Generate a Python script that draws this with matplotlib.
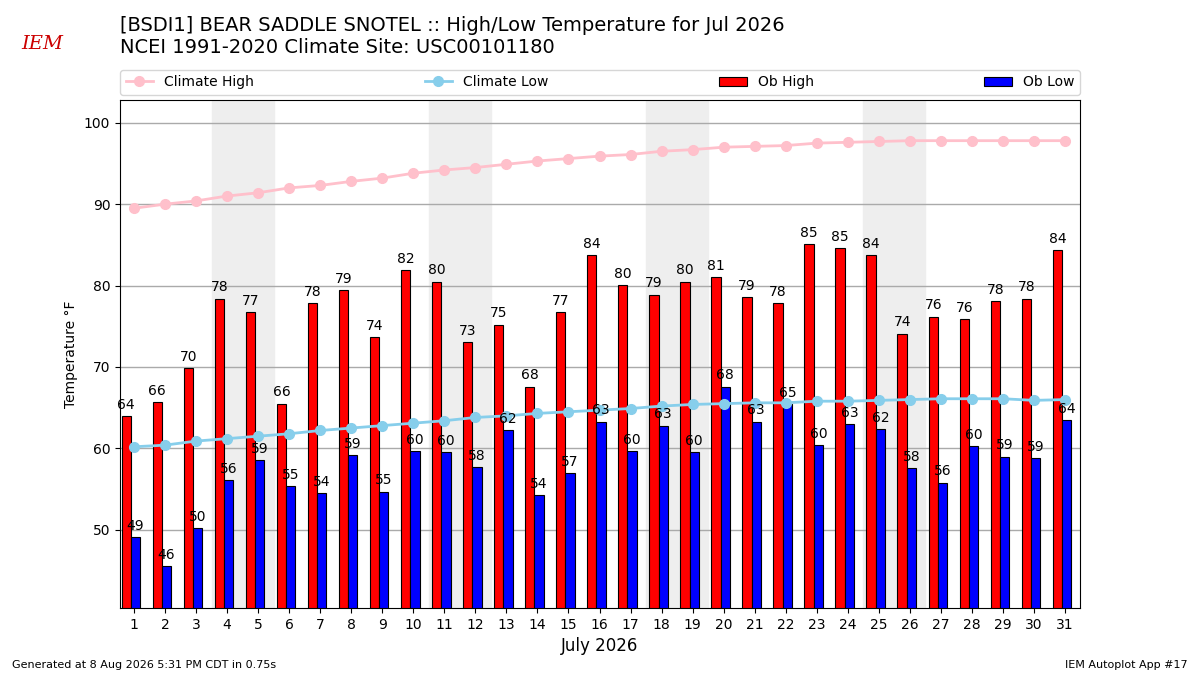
import matplotlib
matplotlib.use("Agg")
import matplotlib.pyplot as plt
import numpy as np

days = list(range(1, 32))
ob_high = [64.0, 65.7, 69.9, 78.4, 76.7, 65.5, 77.9, 79.4, 73.7, 81.9, 80.5, 73.1, 75.2, 67.6, 76.7, 83.7,
           80.1, 78.9, 80.5, 81.0, 78.6, 77.8, 85.1, 84.6, 83.7, 74.1, 76.2, 75.9, 78.1, 78.4, 84.4]
ob_low = [49.1, 45.5, 50.2, 56.1, 58.6, 55.4, 54.5, 59.2, 54.7, 59.7, 59.5, 57.7, 62.2, 54.3, 57.0, 63.3,
          59.7, 62.8, 59.5, 67.6, 63.3, 65.4, 60.4, 63.0, 62.4, 57.6, 55.8, 60.3, 59.0, 58.8, 63.5]
clim_high = [89.5, 90.0, 90.4, 91.0, 91.4, 92.0, 92.3, 92.8, 93.2, 93.8, 94.2, 94.5, 94.9, 95.3, 95.6, 95.9,
             96.1, 96.5, 96.7, 97.0, 97.1, 97.2, 97.5, 97.6, 97.7, 97.8, 97.8, 97.8, 97.8, 97.8, 97.8]
clim_low = [60.2, 60.4, 60.9, 61.2, 61.5, 61.8, 62.2, 62.5, 62.8, 63.1, 63.4, 63.8, 64.0, 64.3, 64.5, 64.7,
            64.9, 65.2, 65.4, 65.5, 65.6, 65.6, 65.8, 65.8, 65.9, 66.0, 66.1, 66.1, 66.1, 65.9, 66.0]
weekend_starts = [4, 11, 18, 25]

title = "[BSDI1] BEAR SADDLE SNOTEL :: High/Low Temperature for Jul 2026\nNCEI 1991-2020 Climate Site: USC00101180"

fig = plt.figure(figsize=(12, 6.75), dpi=100)
ax = fig.add_axes([0.1, 0.0993, 0.8, 0.7526])

x = np.array(days)
for ws in weekend_starts:
    ax.axvspan(ws - 0.5, ws + 1.5, color="#EEEEEE", zorder=0)

ax.plot(x, clim_high, color="pink", marker="o", ms=7, lw=2, label="Climate High", zorder=3)
ax.plot(x, clim_low, color="skyblue", marker="o", ms=7, lw=2, label="Climate Low", zorder=3)
ax.bar(x - 0.25, ob_high, width=0.3, color="r", edgecolor="k", lw=0.8, label="Ob High", zorder=2)
ax.bar(x + 0.05, ob_low, width=0.3, color="b", edgecolor="k", lw=0.8, label="Ob Low", zorder=2)

for xi, v in zip(x - 0.25, ob_high):
    ax.annotate(f"{v:.0f}", (xi, v), xytext=(0, 3), textcoords="offset points",
                ha="center", va="bottom", fontsize=10, zorder=4)
for xi, v in zip(x + 0.05, ob_low):
    ax.annotate(f"{v:.0f}", (xi, v), xytext=(0, 3), textcoords="offset points",
                ha="center", va="bottom", fontsize=10, zorder=4)

ax.set_xlim(0.55, 31.48)
ax.set_ylim(40.4, 102.8)
ax.set_xticks(days)
ax.set_yticks(range(50, 101, 10))
ax.yaxis.grid(True, color="#aaaaaa", lw=1)
ax.set_axisbelow(True)
ax.set_xlabel("July 2026", fontsize=12)
ax.set_ylabel("Temperature °F", fontsize=10)
ax.tick_params(labelsize=10)

ax.legend(loc="lower left", bbox_to_anchor=(0, 1.01, 1, 0.05), ncol=4, mode="expand",
          borderaxespad=0, fontsize=10)

fig.text(0.1, 0.977, title, fontsize=14, ha="left", va="top", linespacing=1.2)
fig.text(0.018, 0.935, "IEM", fontsize=14, color="#cc0000", family="DejaVu Serif", style="italic",
         ha="left", va="center")
fig.text(0.01, 0.015, "Generated at 8 Aug 2026 5:31 PM CDT in 0.75s", fontsize=8, ha="left", va="center")
fig.text(0.99, 0.015, "IEM Autoplot App #17", fontsize=8, ha="right", va="center")

fig.savefig("out.png", dpi=100)
